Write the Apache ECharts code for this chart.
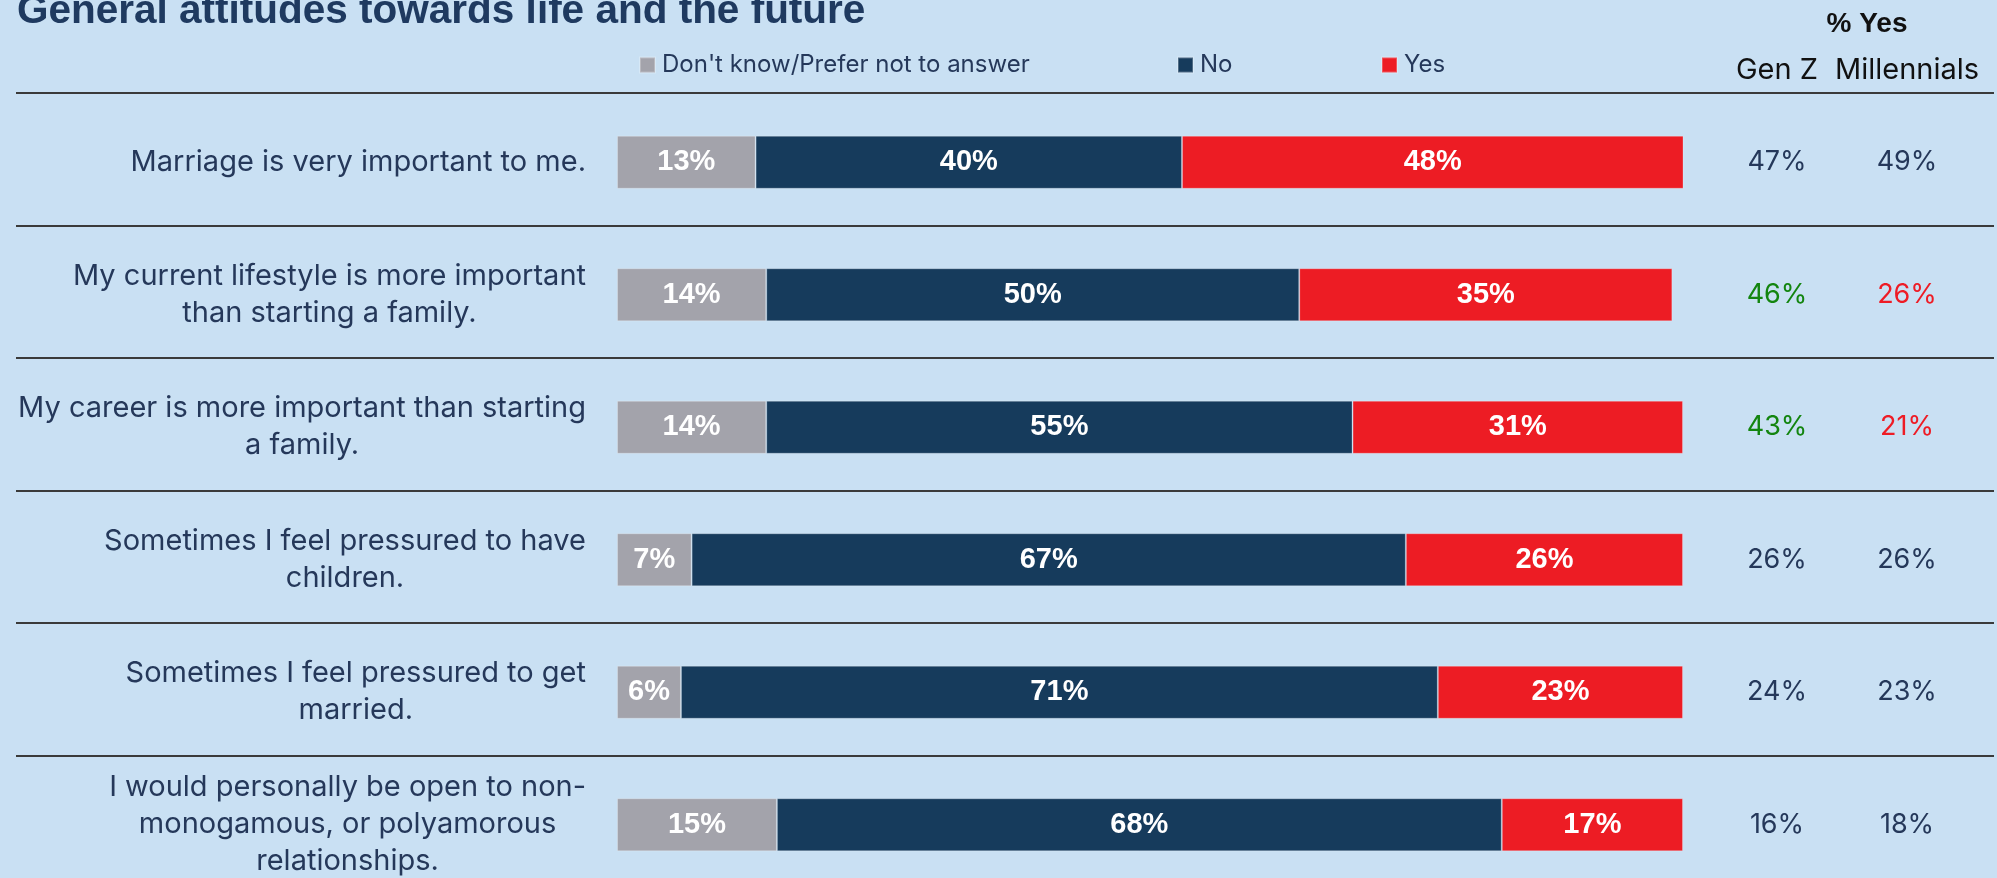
<!DOCTYPE html>
<html>
<head>
<meta charset="utf-8">
<title>General attitudes towards life and the future</title>
<script src="https://cdn.jsdelivr.net/npm/echarts@6/dist/echarts.min.js"></script>
<style>
  html, body { margin: 0; padding: 0; background: #C9E0F3; }
  #chart { width: 1997px; height: 878px; }
</style>
</head>
<body>
<div id="chart"></div>
<script>
// Survey statements (line breaks as wrapped in the row labels)
const categories = [
  'Marriage is very important to me.',
  'My current lifestyle is more important\nthan starting a family.',
  'My career is more important than starting\na family.',
  'Sometimes I feel pressured to have\nchildren.',
  'Sometimes I feel pressured to get\nmarried.',
  'I would personally be open to non-\nmonogamous, or polyamorous\nrelationships.'
];
const seriesNames = ["Don't know/Prefer not to answer", 'No', 'Yes'];
const dontKnow = [13, 14, 14, 7, 6, 15];
const no = [40, 50, 55, 67, 71, 68];
const yes = [48, 35, 31, 26, 23, 17];

// "% Yes" by generation
const yesHeaders = ['Gen Z', 'Millennials'];
const genZYes = [47, 46, 43, 26, 24, 16];
const millennialsYes = [49, 26, 21, 26, 23, 18];

const BG = '#C9E0F3';
const NAVY_TEXT = '#25385A';
const COLORS = ['#A3A3AB', '#163B5C', '#ED1C24'];
const GREEN = '#13850F';
const RED = '#EE1C25';
const SANS = 'Inter, "Open Sans", "Liberation Sans", sans-serif';
const ARIAL = '"Liberation Sans", Arial, sans-serif';

// Gen Z vs Millennials: a gap of 10 points or more is flagged (higher green, lower red)
function yesColor(own, other) {
  if (Math.abs(own - other) < 10) return NAVY_TEXT;
  return own > other ? GREEN : RED;
}

const stacks = [dontKnow, no, yes];
const barSeries = stacks.map((vals, k) => ({
  name: seriesNames[k],
  type: 'bar',
  stack: 'total',
  xAxisIndex: 0,
  yAxisIndex: 0,
  barWidth: 53,
  data: vals,
  itemStyle: { color: COLORS[k], borderColor: 'rgba(255,255,255,0.25)', borderWidth: 1 },
  label: {
    show: true,
    position: 'inside',
    formatter: '{c}%',
    color: '#FFFFFF',
    fontFamily: ARIAL,
    fontWeight: 'bold',
    fontSize: 29
  },
  emphasis: { disabled: true }
}));

function yesSeries(colIndex, own, other) {
  return {
    type: 'scatter',
    xAxisIndex: 2,
    yAxisIndex: 2,
    symbolSize: 2,
    itemStyle: { color: 'rgba(0,0,0,0)', opacity: 1 },
    silent: true,
    data: own.map((v, i) => ({
      value: [colIndex, i, v],
      label: { color: yesColor(v, other[i]) }
    })),
    label: {
      show: true,
      position: 'inside',
      formatter: p => p.value[2] + '%',
      fontFamily: SANS,
      fontSize: 27,
      opacity: 1
    },
    emphasis: { disabled: true }
  };
}

const chart = echarts.init(document.getElementById('chart'), null, { renderer: 'canvas' });

const gridBase = { outerBoundsMode: 'none', containLabel: false };

chart.setOption({
  backgroundColor: BG,
  animation: false,
  title: [
    {
      text: 'General attitudes towards life and the future',
      left: 12,
      top: -14,
      textStyle: { fontFamily: ARIAL, fontWeight: 'bold', fontSize: 40.5, color: '#1F3A60' }
    },
    {
      text: '% Yes',
      left: 1862,
      top: 5,
      textAlign: 'center',
      textStyle: { fontFamily: ARIAL, fontWeight: 'bold', fontSize: 28, color: '#111111' }
    }
  ],
  legend: [
    { data: [seriesNames[0]], left: 634 },
    { data: [seriesNames[1]], left: 1172 },
    { data: [seriesNames[2]], left: 1376 }
  ].map(l => Object.assign(l, {
    top: 48,
    icon: 'rect',
    itemWidth: 15,
    itemHeight: 15,
    selectedMode: false,
    textStyle: { fontFamily: SANS, fontSize: 24, color: NAVY_TEXT, padding: [0, 0, 0, 2] }
  })),
  grid: [
    Object.assign({ left: 617, width: 1066, top: 96, height: 795 }, gridBase),   // stacked bars
    Object.assign({ left: 16, width: 1978, top: 93, height: 795 }, gridBase),    // row separators
    Object.assign({ left: 1712, width: 260, top: 96, height: 795 }, gridBase)    // % Yes columns
  ],
  xAxis: [
    { gridIndex: 0, type: 'value', min: 0, max: 100, show: false },
    { gridIndex: 1, type: 'value', min: 0, max: 1, show: false },
    {
      gridIndex: 2,
      type: 'category',
      position: 'top',
      data: yesHeaders,
      axisLine: { show: false },
      axisTick: { show: false },
      axisLabel: { interval: 0, fontFamily: SANS, fontSize: 29, color: '#111111', margin: 11 }
    }
  ],
  yAxis: [
    {
      gridIndex: 0,
      type: 'category',
      inverse: true,
      data: categories,
      axisLine: { show: false },
      axisTick: { show: false },
      axisLabel: {
        interval: 0,
        margin: 31,
        align: 'right',
        formatter: v => v.split('\n').map(s => '{c|' + s + '}').join('\n'),
        rich: {
          c: { align: 'center', fontFamily: SANS, fontSize: 29, lineHeight: 37, color: NAVY_TEXT }
        }
      }
    },
    {
      gridIndex: 1,
      type: 'category',
      inverse: true,
      data: categories,
      axisLine: { show: false },
      axisTick: { show: false },
      axisLabel: { show: false },
      splitLine: { show: true, interval: 0, lineStyle: { color: '#3A3A3A', width: 2 } }
    },
    {
      gridIndex: 2,
      type: 'category',
      inverse: true,
      data: categories,
      axisLine: { show: false },
      axisTick: { show: false },
      axisLabel: { show: false },
      splitLine: { show: false }
    }
  ],
  series: barSeries.concat([
    yesSeries(0, genZYes, millennialsYes),
    yesSeries(1, millennialsYes, genZYes)
  ])
});
</script>
</body>
</html>
